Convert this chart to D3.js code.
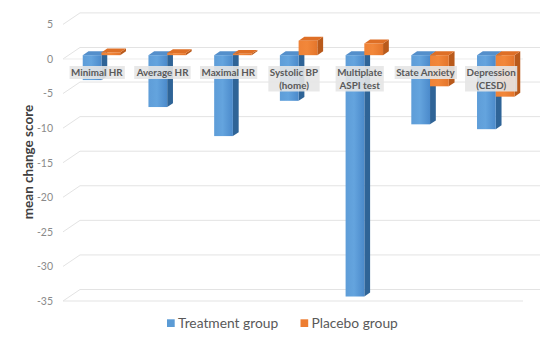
<!DOCTYPE html>
<html>
<head>
<meta charset="utf-8">
<script src="https://cdn.jsdelivr.net/npm/d3@7"></script>
<style>
  html, body { margin: 0; padding: 0; background: #fff; }
  svg { display: block; }
</style>
</head>
<body>
<svg id="chart" width="554" height="344"></svg>
<script>
// Mean change scores per outcome, treatment vs placebo
const categories = [
  ["Minimal HR"],
  ["Average HR"],
  ["Maximal HR"],
  ["Systolic BP", "(home)"],
  ["Multiplate", "ASPI test"],
  ["State Anxiety"],
  ["Depression", "(CESD)"]
];
const treatment = [-3.6, -7.5, -11.7, -6.6, -34.9, -10.0, -10.7];
const placebo   = [0.4, 0.3, 0.2, 2.1, 1.7, -4.5, -6.0];
const yTicks = [5, 0, -5, -10, -15, -20, -25, -30, -35];
const seriesNames = ["Treatment group", "Placebo group"];

const svg = d3.select("#chart");
const keys = categories.map(c => c.join(" "));

// front plane of the 3-D box
const x = d3.scaleBand().domain(keys).range([63, 523]);
const y = d3.scaleLinear().domain([-35, 5]).range([301, 24.4]);

// depth projection (back plane shifted right and up)
const DX = 17, DY = -11.5;
const P = (px, py, d) => [px + DX * d, py + DY * d];
const d0 = 0.33, d1 = 0.67;

const defs = svg.append("defs");
function grad(id, stops) {
  const g = defs.append("linearGradient").attr("id", id)
    .attr("x1", "0%").attr("x2", "100%").attr("y1", "0%").attr("y2", "0%");
  stops.forEach(([o, c]) => g.append("stop").attr("offset", o).attr("stop-color", c));
}
grad("blueFront", [["0%", "#5E9DD8"], ["45%", "#64A4DE"], ["100%", "#4B8ACB"]]);
grad("orangeFront", [["0%", "#EF8236"], ["45%", "#F2873A"], ["100%", "#E4752B"]]);

const colors = {
  blue:   { front: "url(#blueFront)",   side: "#2F6497", top: "#548FCB", key: "#5B9BD5" },
  orange: { front: "url(#orangeFront)", side: "#B95A1B", top: "#DE6F26", key: "#ED7D31" }
};

// walls: left-side diagonals and back-wall gridlines
const grid = svg.append("g").attr("stroke", "#e3e3e3").attr("stroke-width", 1).attr("fill", "none");
yTicks.forEach(v => {
  const a = P(63, y(v), 0), b = P(63, y(v), 1), c = P(523, y(v), 1);
  grid.append("path").attr("d", d3.line()([a, b, c]));
});
// floor front edge and zero line
grid.append("line").attr("x1", 63).attr("x2", 523).attr("y1", y(-35)).attr("y2", y(-35));
grid.append("line").attr("x1", 63).attr("x2", 523).attr("y1", y(0)).attr("y2", y(0))
  .attr("stroke", "#ececec");

// y axis tick labels (plain hyphen for negatives)
const yAxis = svg.append("g")
  .attr("transform", "translate(63,0)")
  .call(d3.axisLeft(y).tickValues(yTicks).tickSize(0).tickPadding(10).tickFormat(d => String(d)));
yAxis.select(".domain").remove();
yAxis.selectAll("text")
  .attr("font-family", "Lato, 'Open Sans', sans-serif")
  .attr("font-size", 10.5)
  .attr("fill", "#8a8a8a");

// axis title
svg.append("text")
  .attr("transform", "translate(33,162) rotate(-90)")
  .attr("text-anchor", "middle")
  .attr("font-family", "Lato, 'Open Sans', sans-serif")
  .attr("font-weight", "bold")
  .attr("font-size", 13.5)
  .attr("fill", "#404040")
  .text("mean change score");

// bars
const bw = x.bandwidth() * 0.285;
const bars = svg.append("g");
function bar(x0, v, c) {
  const x1 = x0 + bw;
  const yt = y(Math.max(v, 0)), yb = y(Math.min(v, 0));
  const g = bars.append("g");
  const line = d3.line();
  // side face
  g.append("path").attr("fill", c.side)
    .attr("d", line([P(x1, yt, d0), P(x1, yt, d1), P(x1, yb, d1), P(x1, yb, d0)]) + "Z");
  // top face
  g.append("path").attr("fill", c.top)
    .attr("d", line([P(x0, yt, d0), P(x1, yt, d0), P(x1, yt, d1), P(x0, yt, d1)]) + "Z");
  // front face
  const f = P(x0, yt, d0);
  g.append("rect").attr("x", f[0]).attr("y", f[1])
    .attr("width", bw).attr("height", Math.max(yb - yt, 0.5))
    .attr("fill", c.front);
}
keys.forEach((k, i) => {
  const cx = x(k) + x.bandwidth() / 2;
  bar(cx - bw, treatment[i], colors.blue);
  bar(cx, placebo[i], colors.orange);
});

// category labels with light boxes
const labels = svg.append("g")
  .attr("font-family", "Lato, 'Open Sans', sans-serif")
  .attr("font-weight", "bold")
  .attr("font-size", 9.8)
  .attr("fill", "#595959");
keys.forEach((k, i) => {
  const cx = x(k) + x.bandwidth() / 2 + 1;
  const g = labels.append("g");
  const t = g.append("text").attr("text-anchor", "middle");
  categories[i].forEach((s, j) => {
    t.append("tspan").attr("x", cx).attr("y", 75.5 + j * 13.5).text(s);
  });
  const bb = t.node().getBBox();
  g.insert("rect", "text")
    .attr("x", bb.x - 1.5).attr("y", 66)
    .attr("width", bb.width + 3).attr("height", bb.height + (categories[i].length > 1 ? 0 : 1))
    .attr("fill", "#e6e6e6").attr("opacity", 0.9);
});

// legend
const legend = svg.append("g")
  .attr("font-family", "Lato, 'Open Sans', sans-serif")
  .attr("font-size", 13.8)
  .attr("fill", "#595959");
const legendX = [167, 300.5];
seriesNames.forEach((name, i) => {
  const c = i === 0 ? colors.blue : colors.orange;
  legend.append("rect").attr("x", legendX[i]).attr("y", 319.3)
    .attr("width", 7.7).attr("height", 7.7).attr("fill", c.key);
  legend.append("text").attr("x", legendX[i] + 11).attr("y", 327.8).text(name);
});
</script>
</body>
</html>
